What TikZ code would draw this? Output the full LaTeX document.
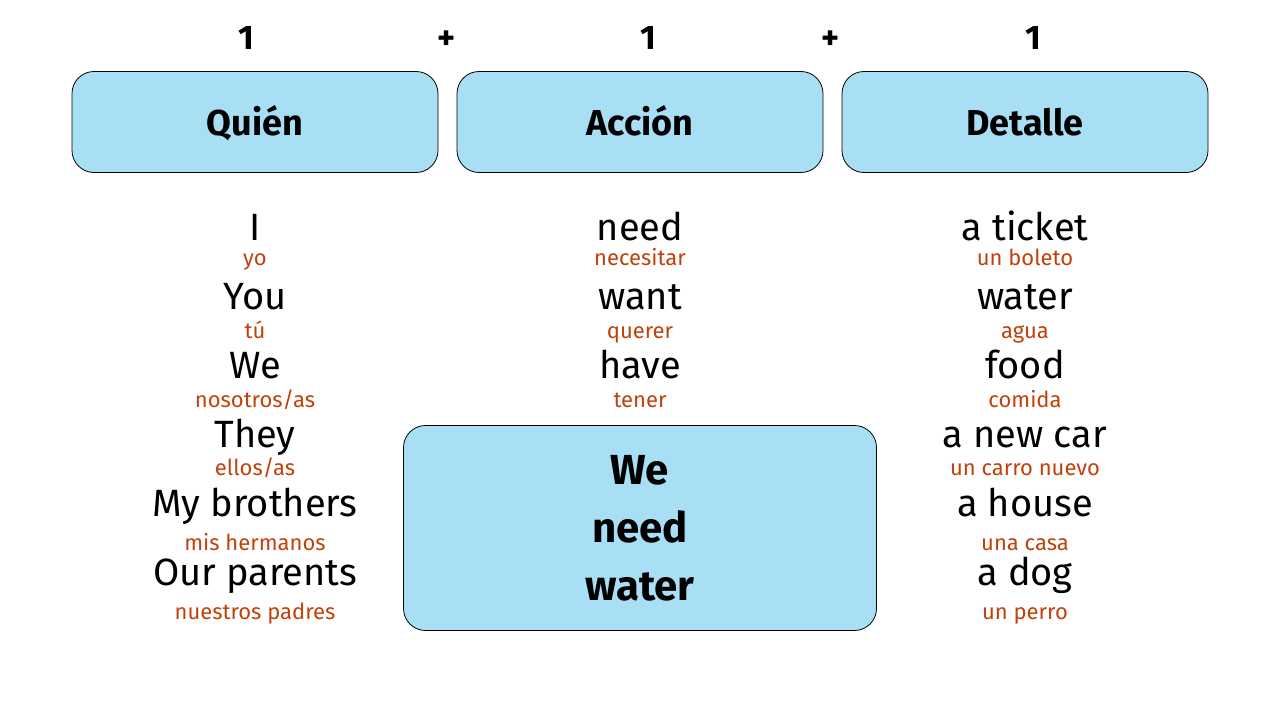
\documentclass[tikz,border=0pt]{standalone}
\usepackage{fontspec}
\setmainfont{Fira Sans}
\definecolor{boxblue}{HTML}{A8DFF5}
\definecolor{transred}{HTML}{C0410A}
\tikzstyle{headbox} = [draw=black, fill=boxblue, rounded corners=22pt, minimum width=366pt, minimum height=101pt, line width=0.8pt, text height=30pt, text depth=4pt, font=\fontsize{36}{40}\selectfont\bfseries]
\tikzstyle{word} = [inner sep=0, text height=27pt, text depth=0pt, font=\fontsize{38}{40}\selectfont]
\tikzstyle{trans} = [inner sep=0, text height=16pt, text depth=0pt, text=transred, font=\fontsize{22}{24}\selectfont]
\tikzstyle{count} = [inner sep=0, text height=24pt, text depth=0pt, font=\fontsize{34}{36}\selectfont\bfseries]
\begin{document}
\begin{tikzpicture}[x=1pt, y=-1pt]
  \useasboundingbox (0,0) rectangle (1280,720);

  \node at (246, 37) [count] (n1) {1};
  \node at (447, 37) [count] (p1) {+};
  \node at (648, 37) [count] (n2) {1};
  \node at (831, 37) [count] (p2) {+};
  \node at (1033, 37) [count] (n3) {1};

  \node at (255, 122) [headbox] (who) {Quién};
  \node at (640, 122) [headbox] (act) {Acción};
  \node at (1025, 122) [headbox] (det) {Detalle};

  \node at (255, 227) [word] (i) {I};
  \node at (255, 257) [trans] (yo) {yo};
  \node at (255, 296) [word] (you) {You};
  \node at (255, 330) [trans] (tu) {tú};
  \node at (255, 365) [word] (we) {We};
  \node at (255, 399) [trans] (nos) {nosotros/as};
  \node at (255, 434) [word] (they) {They};
  \node at (255, 467) [trans] (ellos) {ellos/as};
  \node at (255, 503) [word] (bro) {My brothers};
  \node at (255, 542) [trans] (herm) {mis hermanos};
  \node at (255, 572) [word] (par) {Our parents};
  \node at (255, 611) [trans] (padres) {nuestros padres};

  \node at (640, 227) [word] (need) {need};
  \node at (640, 257) [trans] (nec) {necesitar};
  \node at (640, 296) [word] (want) {want};
  \node at (640, 330) [trans] (quer) {querer};
  \node at (640, 365) [word] (have) {have};
  \node at (640, 399) [trans] (ten) {tener};

  \node at (1025, 227) [word] (ticket) {a ticket};
  \node at (1025, 257) [trans] (bol) {un boleto};
  \node at (1025, 296) [word] (water) {water};
  \node at (1025, 330) [trans] (agua) {agua};
  \node at (1025, 365) [word] (food) {food};
  \node at (1025, 399) [trans] (com) {comida};
  \node at (1025, 434) [word] (car) {a new car};
  \node at (1025, 467) [trans] (carro) {un carro nuevo};
  \node at (1025, 503) [word] (house) {a house};
  \node at (1025, 542) [trans] (casa) {una casa};
  \node at (1025, 572) [word] (dog) {a dog};
  \node at (1025, 611) [trans] (perro) {un perro};

  \node at (640, 528) [draw=black, fill=boxblue, rounded corners=22pt, line width=0.8pt,
    minimum width=473pt, minimum height=205pt, align=center,
    font=\fontsize{42}{58}\selectfont\bfseries] (example) {We\\need\\water};
\end{tikzpicture}
\end{document}
